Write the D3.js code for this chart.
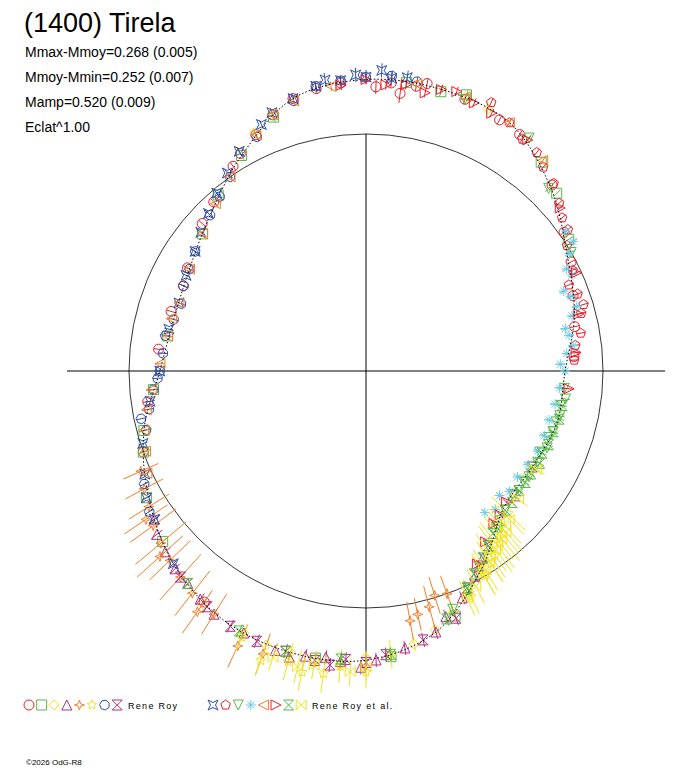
<!DOCTYPE html>
<html>
<head>
<meta charset="utf-8">
<script src="https://cdn.jsdelivr.net/npm/d3@7"></script>
<style>
  body { margin: 0; background: #fff; }
  text { font-family: "Liberation Sans", Arial, sans-serif; }
</style>
</head>
<body>
<div id="chart"></div>
<script>
// Header texts
const title = "(1400) Tirela";
const infoLines = ["Mmax-Mmoy=0.268 (0.005)", "Mmoy-Mmin=0.252 (0.007)", "Mamp=0.520 (0.009)", "Eclat^1.00"];
const groupLabels = ["Rene Roy", "Rene Roy et al."];

// Fit curve: phase angle (deg, clockwise from top) and radius (mean circle = 1)
const fitPhase = [0, 15, 30, 45, 60, 75, 90, 105, 120, 135, 150, 165, 180, 195, 210, 225, 240, 255, 270, 285, 300, 315, 330, 345];
const fitRadius = [1.23, 1.23, 1.21, 1.10, 0.98, 0.91, 0.84, 0.835, 0.81, 0.82, 0.97, 1.14, 1.22, 1.23, 1.21, 1.15, 1.06, 0.97, 0.87, 0.84, 0.86, 0.93, 1.05, 1.19];

// Series: [phase deg, radius, error]
const s1 = [[330,1.06,.02],[335,1.10,.02],[340,1.15,.02],[350,1.21,.02],[5,1.22,.02],[10,1.22,.02],[20,1.22,.02],[300,0.87,.02],[295,0.85,.02],[250,1.0,.02],[262,0.93,.02],[45,1.11,.02],[70,0.93,.02],[215,1.19,.02],
            [2,1.20,.03],[7,1.18,.04],[12,1.24,.02],[28,1.20,.02],[33,1.19,.02],[55,1.02,.02],[62,0.98,.02],[78,0.90,.02],[86,0.88,.02],[312,0.93,.02],[318,0.96,.02],[327,1.03,.02],[345,1.19,.02],[355,1.22,.02],[287,0.86,.02],[276,0.88,.02]];
const s2 = [[20,1.24,.02],[40,1.15,.02],[320,0.97,.02],[310,0.90,.02],[280,0.85,.02],[265,0.90,.02],[255,0.97,.02],[240,1.07,.02],[190,1.23,.02],[175,1.21,.02],
            [8,1.23,.02],[15,1.22,.02],[47,1.10,.02],[57,1.02,.02],[330,1.05,.02],[340,1.14,.02],[250,1.00,.02],[230,1.12,.02],[160,1.10,.02],[140,0.86,.02]];
const s3 = [[150,0.98,.03],[160,1.08,.03],[170,1.17,.03],[180,1.21,.03],[190,1.24,.03],[200,1.23,.03],[205,1.22,.03],[215,1.20,.03],[25,1.22,.02],[335,1.11,.02],
            [155,1.03,.03],[165,1.13,.03],[175,1.20,.03],[185,1.24,.03],[195,1.23,.03]];
const s4 = [[165,1.14,.03],[172,1.18,.03],[178,1.22,.03],[185,1.23,.03],[192,1.23,.03],[198,1.24,.03],[205,1.22,.03],[212,1.21,.03],[220,1.17,.03],[228,1.14,.03],[235,1.09,.03],
            [148,0.93,.03],[152,0.98,.03],[157,1.04,.03],[162,1.09,.03],[181,1.25,.03],[188,1.22,.03],[195,1.25,.03],[216,1.19,.03],[224,1.16,.03],[232,1.12,.03]];
const s5 = [[212,1.21,.10],[218,1.19,.12],[222,1.17,.13],[226,1.15,.12],[230,1.13,.14],[234,1.11,.12],[238,1.08,.10],[242,1.06,.09],[160,1.0,.08],[165,1.03,.09],[170,1.07,.08],[200,1.27,.09],[205,1.28,.10],
            [215,1.24,.11],[228,1.17,.13],[236,1.12,.11],[246,1.04,.08],[163,0.99,.08],[168,1.05,.07]];
const s6 = [[145,0.95,.08],[140,0.90,.10],[135,0.85,.10],[150,1.0,.09],[155,1.05,.08],[175,1.20,.06],[185,1.25,.07],[195,1.27,.08],[205,1.24,.06],[188,1.29,.08],
            [142,0.92,.09],[147,0.97,.09],[180,1.27,.07],[192,1.30,.08],[200,1.30,.07]];
const s7 = [[255,0.96,.02],[260,0.93,.02],[265,0.90,.02],[270,0.87,.02],[275,0.86,.02],[285,0.84,.02],[295,0.85,.02],[305,0.88,.02],[320,0.96,.02],[350,1.22,.02],[0,1.24,.02],[10,1.24,.02],
            [258,0.97,.02],[268,0.88,.02],[280,0.86,.02],[290,0.83,.02],[300,0.86,.02],[315,0.93,.02],[325,1.00,.02],[335,1.09,.02],[345,1.18,.02],[355,1.23,.02],[5,1.25,.02],[243,1.05,.02],[237,1.09,.02]];
const s8 = [[160,1.11,.03],[168,1.16,.03],[176,1.20,.03],[184,1.22,.03],[190,1.24,.03],[196,1.23,.03],[202,1.23,.03],[208,1.22,.03],[120,0.81,.02],[130,0.82,.02],
            [145,0.90,.03],[150,0.95,.03],[155,1.01,.03],[180,1.23,.03],[187,1.25,.03],[214,1.20,.03],[222,1.17,.03]];
const s9 = [[345,1.19,.02],[350,1.22,.02],[355,1.23,.02],[0,1.24,.03],[5,1.24,.03],[340,1.16,.02],[325,1.02,.02],[315,0.94,.02],[305,0.88,.02],[290,0.84,.02],[270,0.87,.02],[245,1.03,.02],[235,1.09,.02],[225,1.15,.02],
            [352,1.24,.03],[358,1.25,.03],[3,1.27,.03],[8,1.25,.03],[337,1.13,.02],[330,1.07,.02],[320,0.98,.02],[310,0.91,.02],[298,0.86,.02],[282,0.85,.02],[262,0.92,.02],[252,0.99,.02],[240,1.07,.02]];
const s10 = [[30,1.21,.02],[38,1.17,.02],[45,1.12,.02],[52,1.05,.02],[58,1.00,.02],[64,0.97,.02],[70,0.95,.02],[75,0.94,.02],[80,0.92,.02],[25,1.25,.02],
             [34,1.18,.02],[41,1.14,.02],[49,1.08,.02],[55,1.04,.02],[67,0.93,.02],[73,0.96,.02],[83,0.89,.02],[87,0.88,.02]];
const s11 = [[95,0.84,.02],[100,0.835,.02],[105,0.83,.02],[110,0.82,.02],[115,0.81,.02],[120,0.81,.02],[125,0.81,.02],[130,0.81,.02],[140,0.86,.03],[145,0.90,.03],[150,0.96,.03],[155,1.02,.03],[35,1.2,.02],
             [98,0.85,.02],[103,0.84,.02],[108,0.83,.02],[113,0.83,.02],[118,0.82,.02],[123,0.82,.02],[128,0.82,.02],[135,0.83,.02],[160,1.07,.03],[20,1.22,.02],[45,1.09,.02],[60,1.00,.02]];
const s12 = [[55,1.03,.02],[60,0.99,.02],[65,0.96,.02],[70,0.92,.02],[75,0.90,.02],[80,0.87,.02],[85,0.85,.02],[90,0.84,.02],[95,0.82,.02],[100,0.81,.02],[110,0.80,.02],[120,0.79,.02],[130,0.79,.02],[137,0.80,.02],
             [58,1.03,.02],[63,0.95,.02],[68,0.90,.02],[73,0.93,.02],[78,0.86,.02],[83,0.88,.02],[88,0.82,.02],[105,0.80,.02],[115,0.80,.02],[125,0.78,.02],[133,0.77,.02],[140,0.78,.02]];
const s13 = [[245,1.02,.02],[255,0.97,.02],[265,0.91,.02],[280,0.85,.02],[290,0.84,.02],[310,0.90,.02],[325,1.00,.02],[335,1.10,.02],[345,1.18,.02],[20,1.23,.02],[40,1.16,.02],
             [250,0.99,.02],[260,0.94,.02],[272,0.87,.02],[285,0.85,.02],[300,0.86,.02],[318,0.95,.02],[340,1.15,.02],[353,1.21,.02],[10,1.23,.02],[30,1.21,.02]];
const s14 = [[0,1.23,.02],[8,1.22,.02],[15,1.23,.02],[22,1.22,.02],[355,1.21,.02],[140,0.84,.02],[145,0.88,.02],[150,0.94,.02],[85,0.89,.02],[95,0.86,.02],
             [4,1.21,.02],[12,1.20,.02],[18,1.24,.02],[26,1.21,.02],[35,1.19,.02],[50,1.07,.02],[65,0.98,.02],[75,0.93,.02],[133,0.81,.02],[137,0.83,.02]];
const s15 = [[100,0.84,.02],[108,0.83,.02],[115,0.82,.02],[122,0.82,.02],[128,0.82,.02],[135,0.83,.02],[142,0.87,.03],[148,0.93,.03],[155,1.01,.03],[175,1.2,.03],[185,1.22,.03],[220,1.17,.03],
             [104,0.84,.02],[112,0.83,.02],[118,0.83,.02],[125,0.82,.02],[132,0.83,.02],[138,0.85,.03],[145,0.90,.03],[152,0.97,.03],[162,1.10,.03],[196,1.23,.03],[206,1.22,.03]];
const s16 = [[138,0.88,.10],[141,0.91,.12],[144,0.93,.12],[147,0.96,.10],[150,0.99,.10],[153,1.02,.08],[130,0.84,.05],[120,0.83,.04],[190,1.26,.06],[180,1.25,.06],
             [136,0.87,.09],[139,0.90,.11],[143,0.92,.12],[146,0.94,.11],[149,0.98,.10],[156,1.05,.08],[183,1.27,.06],[193,1.28,.07],[198,1.27,.06]];

const seriesData = [s1, s2, s3, s4, s5, s6, s7, s8, s9, s10, s11, s12, s13, s14, s15, s16];
const seriesColors = ["#e8202a", "#5ab947", "#f2e31a", "#b0307f", "#f07f2a", "#f2e31a", "#3050a8", "#b0307f",
                      "#3050a8", "#e8202a", "#5ab947", "#6cc8e0", "#f07f2a", "#e8202a", "#5ab947", "#f2e31a"];
const seriesShapes = ["circle", "square", "diamond", "triangle", "star4", "star5", "pentagonR", "trefoil",
                      "xsquare", "pentagon", "triDown", "asterisk", "triLeft", "triRight", "hourglass", "bowtie"];

const W = 688, H = 768;
const cx = 366, cy = 371, R0 = 237;

const svg = d3.select("#chart").append("svg").attr("width", W).attr("height", H);

const r = d3.scaleLinear().domain([0, 1]).range([0, R0]);
const ang = d3.scaleLinear().domain([0, 360]).range([0, 2 * Math.PI]);
const px = (p, v) => cx + r(v) * Math.sin(ang(p));
const py = (p, v) => cy - r(v) * Math.cos(ang(p));

// symbol path builder, half-size s
function shapePath(t, s) {
  const poly = (pts) => "M" + pts.map(p => p.join(",")).join("L") + "Z";
  const reg = (n, rot, rr) => d3.range(n).map(i => {
    const a = rot + i * 2 * Math.PI / n;
    return [rr * Math.sin(a), -rr * Math.cos(a)];
  });
  switch (t) {
    case "circle": return d3.arc()({innerRadius: 0, outerRadius: s, startAngle: 0, endAngle: 2 * Math.PI});
    case "square": return poly([[-s,-s],[s,-s],[s,s],[-s,s]]);
    case "diamond": return poly([[0,-s],[s,0],[0,s],[-s,0]]);
    case "triangle": return poly([[0,-s],[s,s],[-s,s]]);
    case "triDown": return poly([[-s,-s],[s,-s],[0,s]]);
    case "triLeft": return poly([[s,-s],[s,s],[-s,0]]);
    case "triRight": return poly([[-s,-s],[-s,s],[s,0]]);
    case "pentagon": return poly(reg(5, 0, s));
    case "pentagonR": return poly(reg(7, 0.3, s));
    case "star4": return poly(d3.range(8).map(i => { const a = i * Math.PI / 4, q = i % 2 ? s * 0.35 : s; return [q * Math.sin(a), -q * Math.cos(a)]; }));
    case "star5": return poly(d3.range(10).map(i => { const a = i * Math.PI / 5, q = i % 2 ? s * 0.5 : s; return [q * Math.sin(a), -q * Math.cos(a)]; }));
    case "trefoil": return poly([[-s,-s],[0,0],[s,-s]]) + poly([[0,0],[s,s],[-s,s]]);
    case "xsquare": return poly([[-s,-s],[0,-s*0.5],[s,-s],[s*0.5,0],[s,s],[0,s*0.5],[-s,s],[-s*0.5,0]]);
    case "asterisk": return "M0,"+(-s)+"L0,"+s+"M"+(-s)+",0L"+s+",0M"+(-s*0.7)+","+(-s*0.7)+"L"+(s*0.7)+","+(s*0.7)+"M"+(-s*0.7)+","+(s*0.7)+"L"+(s*0.7)+","+(-s*0.7);
    case "hourglass": return poly([[-s,-s],[s,-s],[-s,s],[s,s]]);
    case "bowtie": return poly([[-s,-s],[s,s],[s,-s],[-s,s]]);
  }
}

// axes
svg.append("line").attr("x1", cx - 299).attr("x2", cx + 299).attr("y1", cy).attr("y2", cy).attr("stroke", "#000");
svg.append("line").attr("x1", cx).attr("x2", cx).attr("y1", cy - R0).attr("y2", cy + 299).attr("stroke", "#000");
svg.append("circle").attr("cx", cx).attr("cy", cy).attr("r", r(1)).attr("fill", "none").attr("stroke", "#000").attr("stroke-width", 0.8);

// data
seriesData.forEach((d, i) => {
  const g = svg.append("g").attr("stroke", seriesColors[i]).attr("fill", "none").attr("stroke-width", 1);
  g.selectAll("line").data(d).join("line")
    .attr("x1", p => px(p[0], p[1] - p[2])).attr("y1", p => py(p[0], p[1] - p[2]))
    .attr("x2", p => px(p[0], p[1] + p[2])).attr("y2", p => py(p[0], p[1] + p[2]));
  g.selectAll("path").data(d).join("path")
    .attr("d", shapePath(seriesShapes[i], 5))
    .attr("transform", p => `translate(${px(p[0], p[1])},${py(p[0], p[1])})`);
});

// fit curve
const fitPts = fitPhase.map((p, i) => [px(p, fitRadius[i]), py(p, fitRadius[i])]);
svg.append("path").attr("d", d3.line().curve(d3.curveCardinalClosed)(fitPts))
  .attr("fill", "none").attr("stroke", "#000").attr("stroke-width", 1).attr("stroke-dasharray", "1.5,2");

// header
svg.append("text").attr("x", 24).attr("y", 32).attr("font-size", 27).text(title);
svg.selectAll(".info").data(infoLines).join("text").attr("class", "info")
  .attr("x", 25).attr("y", (d, i) => 57 + i * 25).attr("font-size", 14).text(d => d);

// legend
[0, 1].forEach(gi => {
  const x0 = gi ? 213 : 29;
  for (let k = 0; k < 8; k++) {
    const i = gi * 8 + k;
    svg.append("path").attr("d", shapePath(seriesShapes[i], 5))
      .attr("transform", `translate(${x0 + k * 12.6},705)`)
      .attr("fill", "none").attr("stroke", seriesColors[i]);
  }
  svg.append("text").attr("x", x0 + 99).attr("y", 709).attr("font-size", 9)
    .attr("letter-spacing", 1.3).text(groupLabels[gi]);
});
svg.append("text").attr("x", 26).attr("y", 765).attr("font-size", 8).text("©2026 OdG-R8");
</script>
</body>
</html>
